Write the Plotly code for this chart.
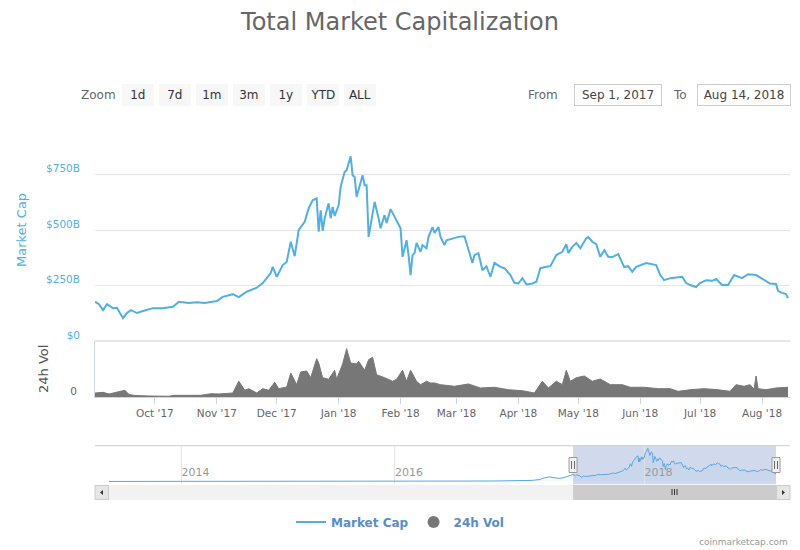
import pandas as pd
import plotly.graph_objects as go

# ---------------- data ----------------
mc_dates = [
    "2017-09-01", "2017-09-03", "2017-09-05", "2017-09-07", "2017-09-10", "2017-09-12", "2017-09-15",
    "2017-09-17", "2017-09-19", "2017-09-22", "2017-09-25", "2017-09-30", "2017-10-05", "2017-10-10",
    "2017-10-13", "2017-10-18", "2017-10-22", "2017-10-26", "2017-11-01", "2017-11-04", "2017-11-09",
    "2017-11-12", "2017-11-16", "2017-11-21", "2017-11-24", "2017-11-28", "2017-11-29", "2017-12-01",
    "2017-12-04", "2017-12-06", "2017-12-08", "2017-12-10", "2017-12-12", "2017-12-15", "2017-12-17",
    "2017-12-19", "2017-12-21", "2017-12-22", "2017-12-23", "2017-12-24", "2017-12-25", "2017-12-27",
    "2017-12-28", "2017-12-29", "2017-12-30", "2018-01-01", "2018-01-02", "2018-01-04", "2018-01-05",
    "2018-01-07", "2018-01-08", "2018-01-09", "2018-01-10", "2018-01-12", "2018-01-13", "2018-01-14",
    "2018-01-15", "2018-01-16", "2018-01-18", "2018-01-19", "2018-01-21", "2018-01-22", "2018-01-24",
    "2018-01-25", "2018-01-27", "2018-01-29", "2018-02-01", "2018-02-02", "2018-02-04", "2018-02-05",
    "2018-02-06", "2018-02-07", "2018-02-08", "2018-02-09", "2018-02-11", "2018-02-12", "2018-02-14",
    "2018-02-15", "2018-02-17", "2018-02-18", "2018-02-20", "2018-02-21", "2018-02-23", "2018-02-24",
    "2018-02-27", "2018-03-02", "2018-03-05", "2018-03-07", "2018-03-09", "2018-03-10", "2018-03-12",
    "2018-03-14", "2018-03-16", "2018-03-18", "2018-03-20", "2018-03-23", "2018-03-25", "2018-03-28",
    "2018-03-30", "2018-04-01", "2018-04-03", "2018-04-05", "2018-04-08", "2018-04-10", "2018-04-12",
    "2018-04-15", "2018-04-17", "2018-04-20", "2018-04-23", "2018-04-25", "2018-04-26", "2018-04-28",
    "2018-04-30", "2018-05-02", "2018-05-05", "2018-05-06", "2018-05-08", "2018-05-10", "2018-05-12",
    "2018-05-14", "2018-05-16", "2018-05-18", "2018-05-21", "2018-05-24", "2018-05-26", "2018-05-28",
    "2018-05-30", "2018-06-04", "2018-06-06", "2018-06-09", "2018-06-11", "2018-06-13", "2018-06-16",
    "2018-06-19", "2018-06-22", "2018-06-24", "2018-06-26", "2018-06-29", "2018-07-01", "2018-07-04",
    "2018-07-07", "2018-07-09", "2018-07-12", "2018-07-15", "2018-07-18", "2018-07-22", "2018-07-25",
    "2018-07-29", "2018-08-02", "2018-08-05", "2018-08-08", "2018-08-09", "2018-08-11", "2018-08-13",
    "2018-08-14",
]
mc_values = [  # market cap, billions USD
    177, 166, 139, 166, 148, 150, 103,
    126, 139, 126, 135, 148, 148, 154,
    177, 171, 175, 171, 180, 199, 211,
    198, 222, 240, 261, 306, 334, 289,
    342, 356, 447, 382, 500, 537, 598,
    634, 643, 492, 589, 496, 553, 620,
    553, 604, 563, 612, 694, 762, 769,
    832, 747, 739, 649, 711, 747, 702,
    702, 469, 576, 627, 553, 508, 567,
    531, 594, 559, 508, 379, 454, 387,
    297, 387, 396, 442, 402, 432, 418,
    469, 513, 487, 513, 469, 432, 454,
    463, 469, 472, 409, 351, 387, 396,
    319, 337, 289, 352, 334, 328, 297,
    262, 259, 283, 255, 259, 267, 328,
    334, 337, 387, 402, 436, 396, 424,
    441, 418, 463, 468, 447, 436, 379,
    409, 379, 378, 391, 333, 337, 312,
    334, 351, 346, 342, 297, 274, 283,
    285, 289, 261, 252, 243, 261, 274,
    271, 279, 252, 252, 297, 283, 301,
    297, 274, 259, 257, 226, 217, 211,
    193,
]

vol_dates = [
    "2017-09-01", "2017-09-05", "2017-09-08", "2017-09-16", "2017-09-18", "2017-09-21", "2017-09-28",
    "2017-10-08", "2017-10-11", "2017-10-18", "2017-10-24", "2017-10-29", "2017-11-02", "2017-11-09",
    "2017-11-12", "2017-11-15", "2017-11-17", "2017-11-21", "2017-11-24", "2017-11-27", "2017-11-30",
    "2017-12-02", "2017-12-06", "2017-12-08", "2017-12-11", "2017-12-13", "2017-12-16", "2017-12-18",
    "2017-12-21", "2017-12-22", "2017-12-24", "2017-12-27", "2017-12-30", "2017-12-31", "2018-01-03",
    "2018-01-05", "2018-01-07", "2018-01-10", "2018-01-11", "2018-01-14", "2018-01-16", "2018-01-18",
    "2018-01-20", "2018-01-24", "2018-01-28", "2018-01-30", "2018-02-02", "2018-02-04", "2018-02-06",
    "2018-02-09", "2018-02-11", "2018-02-14", "2018-02-16", "2018-02-18", "2018-02-21", "2018-02-28",
    "2018-03-07", "2018-03-13", "2018-03-20", "2018-03-27", "2018-04-03", "2018-04-09", "2018-04-13",
    "2018-04-16", "2018-04-20", "2018-04-23", "2018-04-25", "2018-04-27", "2018-04-30", "2018-05-04",
    "2018-05-08", "2018-05-12", "2018-05-17", "2018-05-23", "2018-05-27", "2018-06-03", "2018-06-10",
    "2018-06-16", "2018-06-20", "2018-06-26", "2018-07-03", "2018-07-10", "2018-07-16", "2018-07-19",
    "2018-07-23", "2018-07-26", "2018-07-28", "2018-07-29", "2018-07-30", "2018-08-03", "2018-08-08",
    "2018-08-14",
]
vol_values = [  # 24h volume, billions USD
    5.7, 6.7, 4.3, 9.6, 3.6, 2.1, 1.4,
    1.1, 2.4, 2.1, 2.4, 4.7, 4.3, 5.7,
    22.5, 9.6, 11.9, 5.7, 11.9, 9.6, 21.0,
    11.9, 14.3, 34.3, 17.6, 35.8, 37.2, 27.6,
    54.8, 48.6, 27.6, 25.3, 38.2, 25.3, 47.2,
    69.1, 48.6, 47.2, 51.0, 38.2, 53.3, 56.8,
    31.9, 27.6, 22.5, 25.3, 38.2, 22.5, 38.2,
    22.5, 17.6, 22.5, 20.0, 20.0, 17.6, 15.3,
    18.6, 12.9, 13.9, 10.4, 9.0, 5.7, 22.5,
    12.9, 22.5, 17.6, 38.2, 22.5, 27.6, 30.0,
    22.5, 25.7, 17.6, 17.6, 13.9, 13.9, 11.9,
    11.9, 8.1, 10.4, 11.9, 10.4, 8.1, 17.6,
    15.3, 17.6, 11.0, 30.0, 11.9, 10.4, 12.9,
    13.9,
]

# longer history shown only in the navigator (billions USD)
hist_dates = [
    "2013-04-28", "2013-06-01", "2013-08-01", "2013-10-01", "2013-11-15", "2013-12-04", "2014-01-01",
    "2014-03-01", "2014-06-01", "2014-09-01", "2014-12-01", "2015-01-15", "2015-06-01", "2015-09-01",
    "2015-11-05", "2016-01-01", "2016-03-01", "2016-06-15", "2016-09-01", "2016-12-01", "2017-01-05",
    "2017-02-15", "2017-03-15", "2017-04-15", "2017-05-10", "2017-05-25", "2017-06-12", "2017-07-01",
    "2017-07-16", "2017-08-01", "2017-08-15", "2017-08-31",
]
hist_values = [
    1.6, 1.3, 1.4, 2.0, 6.5, 15.0, 11.0,
    8.0, 8.5, 6.0, 4.5, 3.5, 3.6, 3.7,
    6.0, 7.0, 7.5, 11.0, 11.5, 13.0, 18.0,
    19.0, 24.0, 28.0, 50.0, 90.0, 115.0, 100.0,
    75.0, 100.0, 140.0, 170.0,
]

month_ticks = ["2017-10-01", "2017-11-01", "2017-12-01", "2018-01-01", "2018-02-01", "2018-03-01",
               "2018-04-01", "2018-05-01", "2018-06-01", "2018-07-01", "2018-08-01"]
nav_tick_dates = ["2014-01-01", "2016-01-01", "2018-01-01"]
nav_tick_text = ["2014", "2016", "2018"]
zoom_buttons = ["1d", "7d", "1m", "3m", "1y", "YTD", "ALL"]
range_from, range_to = "Sep 1, 2017", "Aug 14, 2018"
sel_start, sel_end = "2017-09-01", "2018-08-14"

# ---------------- layout geometry ----------------
# the page body has an 8px margin, so the figure is drawn 8px smaller and offset
OFF = 8
W, H = 800 - OFF, 550 - OFF
L0, R0, T0, B0 = 95, 790, 119, 500        # plot area in window pixels
ML, MR, MT, MB = L0 - OFF, W - (R0 - OFF), T0 - OFF, H - (B0 - OFF)
PW, PH = R0 - L0, B0 - T0


def px_x(px):
    return (px - L0) / PW


def px_y(py):
    return (B0 - py) / PH


FONT = "DejaVu Sans"
BLUE = "#4fb0e6"
GRAY_VOL = "#777777"

# Navigator uses an ordinal axis (points evenly spaced); the data density doubles from Sep 2017
split = pd.Timestamp("2017-09-01")
origin = pd.Timestamp(hist_dates[0])


def ordinal(d):
    d = pd.Timestamp(d)
    if d < split:
        return (d - origin).days
    return (split - origin).days + 2 * (d - split).days


nav_dates = hist_dates + mc_dates
nav_values = hist_values + mc_values
nav_x = [ordinal(d) for d in nav_dates]
nav_end = ordinal(sel_end)
u = nav_end / (776 - 109)  # ordinal units per pixel
nav_range = [-(109 - L0) * u, nav_end + (R0 - 776) * u]
s0, s1 = ordinal(sel_start), ordinal(sel_end)

fig = go.Figure()
fig.add_trace(go.Scatter(x=mc_dates, y=mc_values, mode="lines", name="Market Cap",
                         line=dict(color=BLUE, width=2), xaxis="x", yaxis="y"))
fig.add_trace(go.Scatter(x=[None], y=[None], mode="markers", name="24h Vol",
                         marker=dict(color=GRAY_VOL, size=12, symbol="circle"), xaxis="x", yaxis="y"))
fig.add_trace(go.Scatter(x=vol_dates, y=vol_values, mode="lines", name="24h Vol", showlegend=False,
                         fill="tozeroy", fillcolor=GRAY_VOL, line=dict(color=GRAY_VOL, width=1),
                         xaxis="x2", yaxis="y2"))
fig.add_trace(go.Scatter(x=nav_x, y=nav_values, mode="lines", showlegend=False, hoverinfo="skip",
                         fill="tozeroy", fillcolor="rgba(79,163,221,0.06)",
                         line=dict(color="#5aa6df", width=1), xaxis="x3", yaxis="y3"))

xr = ["2017-09-01", "2018-08-15"]
main_dom = [px_y(341), 1]
vol_dom = [px_y(397), px_y(341)]
nav_dom = [px_y(484.3), px_y(445.7)]

fig.update_layout(
    width=W, height=H, margin=dict(l=ML, r=MR, t=MT, b=MB),
    paper_bgcolor="white", plot_bgcolor="white",
    font=dict(family=FONT, color="#666666"),
    title=dict(text="Total Market Capitalization", x=(400 - OFF) / W, xref="container", xanchor="center",
               y=1 - (22 - OFF) / H, yref="container", yanchor="middle",
               font=dict(family=FONT, size=24, color="#666666")),
    xaxis=dict(domain=[0, 1], anchor="y", type="date", range=xr, showticklabels=False,
               showgrid=False, zeroline=False, showline=False, ticks=""),
    xaxis2=dict(domain=[0, 1], anchor="y2", type="date", range=xr, showgrid=False, zeroline=False,
                showline=True, linecolor="#ccd6eb", linewidth=1, ticks="outside", ticklen=6,
                tickcolor="#ccd6eb", tickvals=month_ticks, tickformat="%b '%y",
                tickfont=dict(size=10.5, color="#666666", family=FONT)),
    yaxis=dict(domain=main_dom, anchor="x", range=[0, 1000], tickvals=[0, 250, 500, 750, 1000],
               ticktext=["$0", "$250B", "$500B", "$750B", ""], showgrid=True, gridcolor="#e6e6e6",
               zeroline=True, zerolinecolor="#e6e6e6", zerolinewidth=2, showline=False, ticks="",
               ticklabelstandoff=14, ticklabelshift=-6,
               tickfont=dict(size=10.5, color=BLUE, family=FONT)),
    yaxis2=dict(domain=vol_dom, anchor="x2", range=[0, 80], tickvals=[0], ticktext=["0"],
                showgrid=False, zeroline=False, showline=True, linecolor="#ccd6eb", ticks="",
                ticklabelstandoff=15, ticklabelshift=-6,
                tickfont=dict(size=10.5, color="#666666", family=FONT)),
    xaxis3=dict(domain=[0, 1], anchor="y3", range=nav_range,
                tickvals=[ordinal(d) for d in nav_tick_dates], ticktext=nav_tick_text,
                showgrid=True, gridcolor="#e6e6e6", zeroline=False, showline=False, ticks="",
                ticklabelposition="inside right", tickfont=dict(size=11, color="#999999", family=FONT)),
    yaxis3=dict(domain=nav_dom, anchor="x3", range=[-70, 897], visible=False),
    legend=dict(orientation="h", x=px_x(400), xanchor="center", y=px_y(522), yanchor="middle",
                font=dict(family=FONT, size=12, color="#5a8ccc", weight="bold"),
                bgcolor="rgba(0,0,0,0)", itemwidth=30),
    hovermode=False,
)

shapes = []
# line between panes
shapes.append(dict(type="line", xref="paper", yref="paper", x0=0, x1=1, y0=px_y(341), y1=px_y(341),
                   line=dict(color="#e6e6e6", width=2)))
# navigator mask and outline
shapes.append(dict(type="rect", xref="x3", yref="paper", x0=s0, x1=s1, y0=nav_dom[0], y1=nav_dom[1],
                   fillcolor="rgba(102,133,194,0.3)", line=dict(width=0), layer="below"))
shapes.append(dict(type="line", xref="paper", yref="paper", x0=0, x1=1, y0=nav_dom[1], y1=nav_dom[1],
                   line=dict(color="#cccccc", width=1)))
# scrollbar track, thumb, buttons
sb0, sb1 = px_y(500), px_y(485)
shapes.append(dict(type="rect", xref="paper", yref="paper", x0=0, x1=1, y0=sb0, y1=sb1,
                   fillcolor="#f2f2f2", line=dict(width=0)))
shapes.append(dict(type="rect", xref="x3", yref="paper", x0=s0, x1=s1, y0=sb0, y1=sb1,
                   fillcolor="#cccccc", line=dict(width=0)))
for bx0, bx1 in [(95, 108.5), (776.5, 790)]:
    shapes.append(dict(type="rect", xref="paper", yref="paper", x0=px_x(bx0), x1=px_x(bx1),
                       y0=px_y(499.5), y1=px_y(485.5), fillcolor="#e6e6e6",
                       line=dict(color="#cccccc", width=1)))


def tri(points):
    p = [f"{px_x(a):.5f},{px_y(b):.5f}" for a, b in points]
    return "M" + " L".join(p) + " Z"


shapes.append(dict(type="path", xref="paper", yref="paper", path=tri([(100, 492.5), (103, 490), (103, 495)]),
                   fillcolor="#333333", line=dict(width=0)))
shapes.append(dict(type="path", xref="paper", yref="paper", path=tri([(785, 492.5), (782, 490), (782, 495)]),
                   fillcolor="#333333", line=dict(width=0)))
# thumb grip
mid = (s0 + s1) / 2
for k in (-2.5, 0, 2.5):
    shapes.append(dict(type="line", xref="x3", yref="paper", x0=mid + k * u, x1=mid + k * u,
                       y0=px_y(495), y1=px_y(489), line=dict(color="#333333", width=1)))
# navigator handles
for c in (s0, s1):
    shapes.append(dict(type="rect", xref="x3", yref="paper", x0=c - 4 * u, x1=c + 4 * u,
                       y0=px_y(472.5), y1=px_y(457.5), fillcolor="#f2f2f2",
                       line=dict(color="#999999", width=1)))
    for k in (-1.5, 1.5):
        shapes.append(dict(type="line", xref="x3", yref="paper", x0=c + k * u, x1=c + k * u,
                           y0=px_y(469), y1=px_y(461), line=dict(color="#666666", width=1)))
fig.update_layout(shapes=shapes)

ann = []
ann.append(dict(text="Zoom", xref="paper", yref="paper", x=px_x(118), y=px_y(94.8), xanchor="right",
                yanchor="middle", showarrow=False, font=dict(family=FONT, size=12, color="#666666")))
for i, lab in enumerate(zoom_buttons):
    ann.append(dict(text=lab, xref="paper", yref="paper", x=px_x(138.2 + 37 * i), y=px_y(94.8),
                    xanchor="center", yanchor="middle", showarrow=False, width=31.7, height=21.7,
                    bgcolor="#f7f7f7", borderpad=0, borderwidth=0,
                    font=dict(family=FONT, size=12, color="#333333")))
ann.append(dict(text="From", xref="paper", yref="paper", x=px_x(560), y=px_y(94.8), xanchor="right",
                yanchor="middle", showarrow=False, font=dict(family=FONT, size=12, color="#666666")))
ann.append(dict(text=range_from, xref="paper", yref="paper", x=px_x(618), y=px_y(94.8),
                xanchor="center", yanchor="middle", showarrow=False, width=86, height=20,
                bordercolor="#cccccc", borderwidth=1, borderpad=0, bgcolor="white",
                font=dict(family=FONT, size=12, color="#444444")))
ann.append(dict(text="To", xref="paper", yref="paper", x=px_x(688.5), y=px_y(94.8), xanchor="right",
                yanchor="middle", showarrow=False, font=dict(family=FONT, size=12, color="#666666")))
ann.append(dict(text=range_to, xref="paper", yref="paper", x=px_x(743.5), y=px_y(94.8),
                xanchor="center", yanchor="middle", showarrow=False, width=92, height=20,
                bordercolor="#cccccc", borderwidth=1, borderpad=0, bgcolor="white",
                font=dict(family=FONT, size=12, color="#444444")))
ann.append(dict(text="Market Cap", xref="paper", yref="paper", x=px_x(21), y=px_y(230), textangle=-90,
                xanchor="center", yanchor="middle", showarrow=False,
                font=dict(family=FONT, size=13, color=BLUE)))
ann.append(dict(text="24h Vol", xref="paper", yref="paper", x=px_x(43), y=px_y(369), textangle=-90,
                xanchor="center", yanchor="middle", showarrow=False,
                font=dict(family=FONT, size=13, color="#555555")))
ann.append(dict(text="coinmarketcap.com", xref="paper", yref="paper", x=px_x(790), y=px_y(541.5),
                xanchor="right", yanchor="middle", showarrow=False,
                font=dict(family=FONT, size=9, color="#999999")))
fig.update_layout(annotations=ann)

fig.write_html("out.html")
